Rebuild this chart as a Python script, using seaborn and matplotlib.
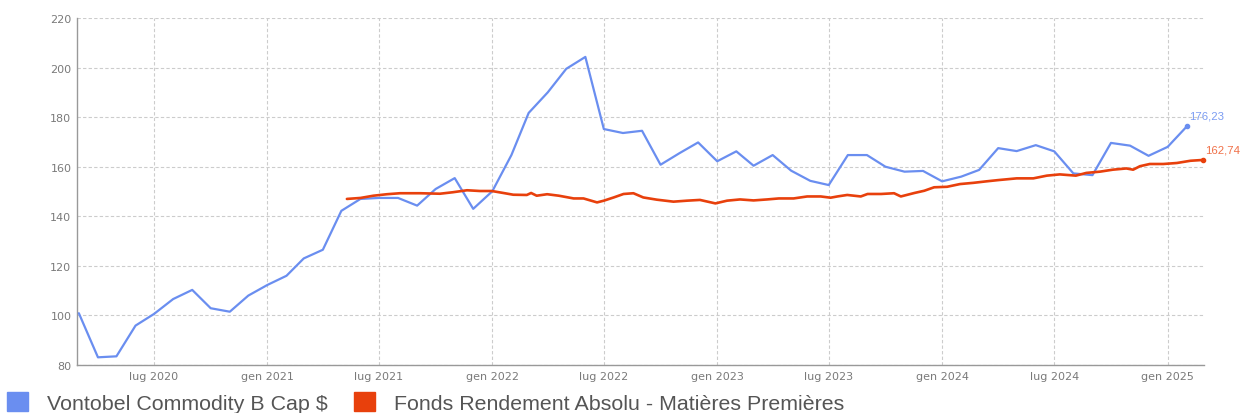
import matplotlib
matplotlib.use("Agg")
import matplotlib.pyplot as plt
import matplotlib.dates as mdates
import matplotlib.patches as mpatches
from matplotlib.ticker import FuncFormatter
import seaborn as sns
import pandas as pd

# ---------------- data ----------------
series_names = ["Vontobel Commodity B Cap $", "Fonds Rendement Absolu - Matières Premières"]

blue_start = "2020-03-01"
blue_values = [100.9, 83.1, 83.5, 95.9, 100.6, 106.6, 110.3, 102.9, 101.5, 108.0,
               112.3, 116.0, 123.0, 126.5, 142.2, 147.0, 147.4, 147.4, 144.3, 151.0,
               155.4, 143.0, 150.1, 164.7, 181.7, 190.0, 199.5, 204.3, 175.2, 173.6,
               174.5, 160.8, 165.5, 169.8, 162.2, 166.2, 160.4, 164.7, 158.4, 154.3,
               152.6, 164.7, 164.7, 160.0, 158.0, 158.3, 154.1, 156.0, 158.7, 167.5,
               166.3, 168.7, 166.2, 157.3, 156.6, 169.6, 168.5, 164.4, 168.0, 176.23]

orange_dates = ["2021-05-10", "2021-06-01", "2021-06-22", "2021-07-14", "2021-08-04",
                "2021-09-06", "2021-10-08", "2021-10-29", "2021-11-21", "2021-12-12",
                "2021-12-31", "2022-01-19", "2022-02-04", "2022-02-26", "2022-03-05",
                "2022-03-14", "2022-03-31", "2022-04-19", "2022-05-13", "2022-05-29",
                "2022-06-20", "2022-07-01", "2022-07-17", "2022-08-02", "2022-08-18",
                "2022-09-03", "2022-09-25", "2022-10-22", "2022-11-13", "2022-12-04",
                "2022-12-29", "2023-01-17", "2023-02-07", "2023-03-01", "2023-03-23",
                "2023-04-11", "2023-05-05", "2023-05-27", "2023-06-18", "2023-07-04",
                "2023-07-15", "2023-07-31", "2023-08-22", "2023-09-02", "2023-09-24",
                "2023-10-15", "2023-10-26", "2023-11-17", "2023-12-03", "2023-12-19",
                "2024-01-09", "2024-01-30", "2024-02-21", "2024-03-13", "2024-04-01",
                "2024-05-01", "2024-05-28", "2024-06-19", "2024-07-10", "2024-08-05",
                "2024-08-22", "2024-09-13", "2024-10-04", "2024-10-26", "2024-11-06",
                "2024-11-17", "2024-12-03", "2024-12-25", "2025-01-16", "2025-02-07",
                "2025-02-28"]
orange_values = [147.0, 147.4, 148.3, 148.9, 149.3, 149.3, 149.1, 149.7, 150.5, 150.2,
                 150.2, 149.4, 148.7, 148.6, 149.4, 148.3, 148.9, 148.3, 147.2, 147.2,
                 145.6, 146.3, 147.6, 149.0, 149.3, 147.6, 146.7, 145.9, 146.3, 146.6,
                 145.2, 146.3, 146.8, 146.4, 146.8, 147.2, 147.2, 148.0, 148.0, 147.5,
                 148.0, 148.6, 148.0, 149.0, 149.0, 149.3, 148.0, 149.4, 150.3, 151.7,
                 151.9, 153.0, 153.5, 154.1, 154.6, 155.3, 155.3, 156.4, 156.9, 156.4,
                 157.5, 158.0, 158.8, 159.3, 158.8, 160.2, 161.1, 161.1, 161.5, 162.4,
                 162.74]

y_ticks = [80, 100, 120, 140, 160, 180, 200, 220]
it_months = ["gen", "feb", "mar", "apr", "mag", "giu", "lug", "ago", "set", "ott", "nov", "dic"]

blue_color = "#6a8ef0"
orange_color = "#e8400c"

# ---------------- frames ----------------
blue_df = pd.DataFrame({
    "date": pd.date_range(blue_start, periods=len(blue_values), freq="MS"),
    "value": blue_values,
})
orange_df = pd.DataFrame({"date": pd.to_datetime(orange_dates), "value": orange_values})

# ---------------- figure ----------------
sns.set_style("white")
plt.rcParams["font.family"] = ["DejaVu Sans"]

fig = plt.figure(figsize=(12.4, 4.14), dpi=100)
ax = fig.add_axes([77 / 1240, 48 / 414, (1204 - 77) / 1240, (366 - 19) / 414])

sns.lineplot(data=blue_df, x="date", y="value", ax=ax, color=blue_color,
             linewidth=1.6, legend=False, zorder=3)
sns.lineplot(data=orange_df, x="date", y="value", ax=ax, color=orange_color,
             linewidth=1.9, legend=False, zorder=4)

# end markers and labels
lb = blue_df.iloc[-1]
lo = orange_df.iloc[-1]
ax.plot([lb["date"]], [lb["value"]], marker="o", ms=3, color=blue_color, zorder=5)
ax.plot([lo["date"]], [lo["value"]], marker="o", ms=3, color=orange_color, zorder=5,
        clip_on=False)
ax.annotate(f"{lb['value']:.2f}".replace(".", ","), (lb["date"], lb["value"]),
            xytext=(1.5, 4), textcoords="offset points", color="#7b9cf2",
            fontsize=8.2, family="Liberation Sans", ha="left", va="bottom")
ax.annotate(f"{lo['value']:.2f}".replace(".", ","), (lo["date"], lo["value"]),
            xytext=(1, 4), textcoords="offset points", color="#f07048",
            fontsize=8.2, family="Liberation Sans", ha="left", va="bottom",
            annotation_clip=False)

# axes
ax.set_xlim(pd.Timestamp("2020-02-27"), pd.Timestamp("2025-03-01"))
ax.set_ylim(80, 220)
ax.set_yticks(y_ticks)
ax.xaxis.set_major_locator(mdates.MonthLocator(bymonth=[1, 7]))
ax.xaxis.set_major_formatter(FuncFormatter(
    lambda v, p: f"{it_months[mdates.num2date(v).month - 1]} {mdates.num2date(v).year}"))
ax.set_xlabel("")
ax.set_ylabel("")

ax.grid(True, color="#cccccc", linestyle=(0, (3, 2)), linewidth=0.8)
ax.set_axisbelow(True)
for s in ["top", "right"]:
    ax.spines[s].set_visible(False)
for s in ["left", "bottom"]:
    ax.spines[s].set_color("#999999")
    ax.spines[s].set_linewidth(1.0)
ax.tick_params(axis="both", length=0, labelsize=8, colors="#7a7a7a")
ax.tick_params(axis="y", pad=4)
ax.tick_params(axis="x", pad=4)

# legend
handles = [mpatches.Patch(color=blue_color, label=series_names[0]),
           mpatches.Patch(color=orange_color, label=series_names[1])]
leg = fig.legend(handles=handles, loc="upper left", bbox_to_anchor=(7 / 1240, 1 - 393 / 414),
                 ncol=2, frameon=False, prop={"family": "Liberation Sans", "size": 15.4},
                 handlelength=1.0, handleheight=1.0, handletextpad=0.85,
                 columnspacing=1.25, borderpad=0, borderaxespad=0)
for t in leg.get_texts():
    t.set_color("#555555")

fig.savefig("out.png", dpi=100)
